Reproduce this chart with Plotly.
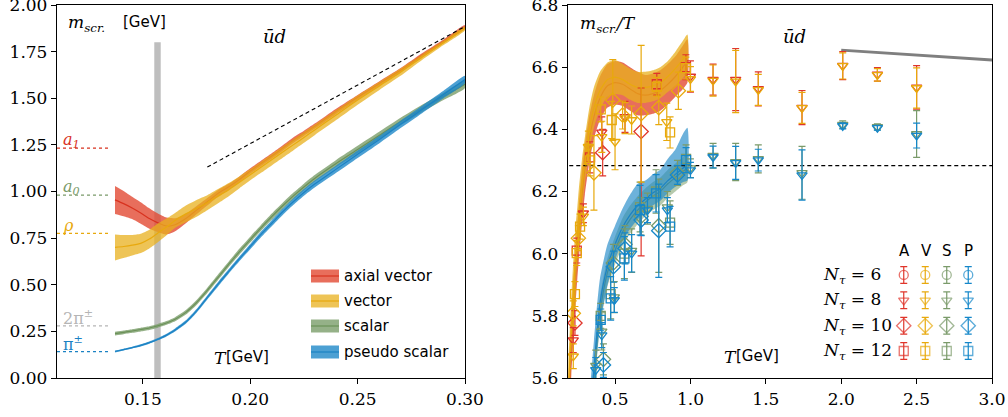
import numpy as np
import plotly.graph_objects as go

W, H = 1008, 417
MT, MB = 5, 39
PH = H - MT - MB


def px(x):
    return x / W


def py(y):
    return (H - MB - y) / PH


# ---------------- colours ----------------
RED, RED_F = "#D8321F", "rgba(226,74,51,0.80)"
YEL, YEL_F = "#E8A90E", "rgba(232,176,30,0.75)"
GRN, GRN_F = "#6B9158", "rgba(122,158,106,0.80)"
BLU, BLU_F = "#1B82C4", "rgba(31,136,200,0.80)"
PT_RED, PT_YEL, PT_GRN, PT_BLU = "#E0352B", "#E8A90C", "#7A9A6A", "#1587C9"

# ---------------- left panel data (m_scr in GeV) ----------------
T_L = [0.137, 0.141, 0.145, 0.149, 0.153, 0.157, 0.161, 0.165, 0.170, 0.175, 0.180, 0.185, 0.190,
       0.195, 0.200, 0.205, 0.210, 0.215, 0.220, 0.225, 0.230, 0.240, 0.250, 0.260, 0.270, 0.280,
       0.290, 0.300]
AX_L = [0.955, 0.935, 0.912, 0.885, 0.855, 0.832, 0.815, 0.822, 0.855, 0.900, 0.945, 0.990, 1.025,
        1.065, 1.110, 1.150, 1.190, 1.232, 1.275, 1.312, 1.350, 1.430, 1.505, 1.578, 1.650, 1.730,
        1.805, 1.882]
AX_L_E = [0.075, 0.068, 0.060, 0.058, 0.055, 0.050, 0.045, 0.035, 0.025, 0.022, 0.020, 0.018, 0.016,
          0.016, 0.015, 0.015, 0.015, 0.015, 0.015, 0.014, 0.014, 0.014, 0.013, 0.012, 0.012, 0.011,
          0.010, 0.010]
VE_L = [0.700, 0.705, 0.712, 0.722, 0.745, 0.778, 0.810, 0.845, 0.880, 0.910, 0.940, 0.975, 1.010,
        1.050, 1.090, 1.130, 1.170, 1.210, 1.250, 1.290, 1.330, 1.410, 1.490, 1.565, 1.640, 1.720,
        1.797, 1.875]
VE_L_E = [0.070, 0.062, 0.055, 0.052, 0.050, 0.050, 0.045, 0.040, 0.045, 0.045, 0.040, 0.038, 0.035,
          0.032, 0.030, 0.030, 0.030, 0.030, 0.030, 0.029, 0.028, 0.027, 0.025, 0.022, 0.020, 0.015,
          0.012, 0.010]
SC_L = [0.238, 0.245, 0.252, 0.260, 0.268, 0.280, 0.295, 0.315, 0.352, 0.405, 0.470, 0.540, 0.610,
        0.678, 0.742, 0.805, 0.865, 0.922, 0.975, 1.024, 1.070, 1.150, 1.225, 1.300, 1.375, 1.445,
        1.510, 1.575]
SC_L_E = [0.010, 0.010, 0.010, 0.010, 0.010, 0.010, 0.010, 0.011, 0.012, 0.013, 0.014, 0.015, 0.015,
          0.016, 0.016, 0.016, 0.017, 0.017, 0.018, 0.018, 0.018, 0.019, 0.020, 0.020, 0.020, 0.020,
          0.020, 0.020]
PS_L = [0.142, 0.152, 0.163, 0.175, 0.190, 0.208, 0.230, 0.258, 0.300, 0.360, 0.432, 0.503, 0.572,
        0.640, 0.705, 0.770, 0.830, 0.890, 0.945, 0.995, 1.040, 1.120, 1.200, 1.278, 1.360, 1.440,
        1.520, 1.600]
PS_L_E = [0.005, 0.005, 0.005, 0.006, 0.006, 0.006, 0.007, 0.008, 0.009, 0.010, 0.011, 0.012, 0.012,
          0.013, 0.014, 0.015, 0.016, 0.017, 0.018, 0.018, 0.019, 0.020, 0.020, 0.020, 0.020, 0.020,
          0.020, 0.020]

T_FREE = [0.18, 0.30]
M_FREE = [1.131, 1.885]          # 2 pi T
TC_BAND = [0.1553, 0.1583]
TC_TOP = 1.80
VAC_T = [0.11, 0.135]
VAC_NAMES = ["a<sub>1</sub>", "a<sub>0</sub>", "ρ", "2π<sup>±</sup>", "π<sup>±</sup>"]
VAC_MASS = [1.233, 0.981, 0.776, 0.279, 0.141]
VAC_COL = [RED, "#7A9A6A", YEL, "#B5B5B5", BLU]
VAC_ITAL = [True, True, True, False, False]

# ---------------- right panel data (m_scr / T) ----------------
T_RV = [0.19, 0.20, 0.21, 0.22, 0.23, 0.24, 0.25, 0.26, 0.28, 0.30, 0.33, 0.36, 0.40, 0.45, 0.50,
        0.55, 0.60, 0.65, 0.70, 0.75, 0.80, 0.85, 0.90, 0.95, 0.98]
AX_R = [5.50, 5.60, 5.70, 5.79, 5.87, 5.94, 6.01, 6.07, 6.18, 6.27, 6.37, 6.44, 6.50, 6.54, 6.55,
        6.545, 6.53, 6.515, 6.51, 6.515, 6.525, 6.545, 6.57, 6.60, 6.62]
AX_R_E = [0.09, 0.09, 0.09, 0.09, 0.09, 0.09, 0.09, 0.09, 0.085, 0.08, 0.075, 0.07, 0.07, 0.07, 0.07,
          0.07, 0.07, 0.07, 0.065, 0.065, 0.065, 0.065, 0.065, 0.07, 0.07]
VE_R = [5.55, 5.66, 5.76, 5.85, 5.93, 6.00, 6.06, 6.12, 6.22, 6.30, 6.40, 6.47, 6.525, 6.56, 6.568,
        6.56, 6.545, 6.535, 6.535, 6.54, 6.55, 6.57, 6.595, 6.625, 6.645]
VE_R_E = [0.10, 0.10, 0.10, 0.10, 0.10, 0.10, 0.09, 0.09, 0.08, 0.075, 0.07, 0.065, 0.06, 0.055, 0.055,
          0.05, 0.05, 0.05, 0.05, 0.05, 0.05, 0.05, 0.055, 0.06, 0.06]
T_RP = [0.33, 0.36, 0.40, 0.45, 0.50, 0.55, 0.60, 0.65, 0.70, 0.75, 0.80, 0.85, 0.90, 0.95, 0.98]
PS_R = [5.45, 5.63, 5.84, 5.96, 6.03, 6.085, 6.125, 6.155, 6.175, 6.195, 6.21, 6.235, 6.255, 6.275, 6.285]
PS_R_UP = [0.09, 0.09, 0.08, 0.07, 0.06, 0.06, 0.065, 0.07, 0.06, 0.06, 0.06, 0.07, 0.08, 0.11, 0.12]
PS_R_DN = [0.09, 0.08, 0.07, 0.06, 0.05, 0.045, 0.045, 0.045, 0.04, 0.04, 0.04, 0.04, 0.04, 0.045, 0.05]
SC_R = [5.42, 5.60, 5.81, 5.94, 6.01, 6.07, 6.11, 6.14, 6.165, 6.185, 6.20, 6.225, 6.245, 6.265, 6.275]
SC_R_E = [0.05, 0.05, 0.05, 0.045, 0.045, 0.045, 0.045, 0.045, 0.045, 0.045, 0.045, 0.045, 0.045, 0.045, 0.045]

T_HIGH = [2.0, 3.0]
M_HIGH = [6.655, 6.623]
T_2PI = [0.15, 3.1]
M_2PI = [6.2832, 6.2832]

# lattice points: (T, m/T, err)
T_A8 = [0.223, 0.29, 0.412, 0.566, 1.0, 1.15, 1.30, 1.45, 1.74, 2.01, 2.24, 2.5]
M_A8 = [5.722, 6.13, 6.39, 6.44, 6.57, 6.56, 6.56, 6.53, 6.47, 6.605, 6.577, 6.535]
E_A8 = [0.04, 0.03, 0.05, 0.05, 0.05, 0.05, 0.10, 0.055, 0.055, 0.045, 0.022, 0.07]
T_V8 = [0.223, 0.29, 0.323, 0.412, 0.50, 0.566, 0.61, 0.843, 1.0, 1.15, 1.30, 1.45, 1.74, 2.01, 2.24, 2.5]
M_V8 = [5.67, 6.12, 6.344, 6.376, 6.36, 6.436, 6.43, 6.424, 6.562, 6.557, 6.554, 6.527, 6.469, 6.604, 6.575, 6.533]
E_V8 = [0.04, 0.03, 0.05, 0.05, 0.09, 0.05, 0.045, 0.06, 0.04, 0.05, 0.10, 0.05, 0.05, 0.042, 0.02, 0.065]
T_P8 = [0.372, 0.412, 0.495, 0.61, 0.715, 0.847, 1.0, 1.15, 1.30, 1.45, 1.74, 2.01, 2.24, 2.5]
M_P8 = [5.626, 5.738, 5.851, 6.001, 6.14, 6.14, 6.269, 6.311, 6.292, 6.301, 6.253, 6.411, 6.405, 6.38]
E_P8 = [0.04, 0.04, 0.04, 0.06, 0.04, 0.04, 0.025, 0.035, 0.053, 0.035, 0.081, 0.01, 0.008, 0.04]
M_S8 = [5.64, 5.75, 5.86, 6.01, 6.145, 6.15, 6.275, 6.315, 6.295, 6.305, 6.26, 6.415, 6.408, 6.385]
E_S8 = [0.05, 0.06, 0.05, 0.07, 0.05, 0.05, 0.03, 0.04, 0.06, 0.045, 0.085, 0.012, 0.01, 0.075]

T_A10 = [0.234, 0.418, 0.673]
M_A10 = [5.777, 6.325, 6.393]
E_A10_UP = [0.04, 0.075, 0.14]
E_A10_DN = [0.04, 0.075, 0.40]
T_V10 = [0.223, 0.257, 0.36, 0.485, 0.55, 0.673, 0.79, 0.92]
M_V10 = [5.808, 6.05, 6.26, 6.494, 6.446, 6.45, 6.47, 6.524]
E_V10 = [0.04, 0.04, 0.12, 0.13, 0.045, 0.22, 0.055, 0.06]
T_P10 = [0.423, 0.489, 0.566, 0.673, 0.79, 0.914]
M_P10 = [5.642, 5.958, 6.017, 6.108, 6.074, 6.253]
E_P10 = [0.04, 0.05, 0.05, 0.05, 0.15, 0.03]
M_S10 = [5.66, 5.97, 6.03, 6.12, 6.09, 6.26]
E_S10 = [0.05, 0.06, 0.06, 0.06, 0.15, 0.04]

T_A12 = [0.246, 0.334, 0.777, 0.97]
M_A12 = [6.01, 6.31, 6.545, 6.60]
E_A12 = [0.04, 0.05, 0.035, 0.04]
T_V12 = [0.234, 0.246, 0.268, 0.334, 0.405, 0.478, 0.777, 0.865, 0.97]
M_V12 = [5.87, 6.002, 6.087, 6.30, 6.464, 6.43, 6.537, 6.39, 6.597]
E_V12 = [0.04, 0.04, 0.04, 0.05, 0.04, 0.06, 0.03, 0.05, 0.035]
T_P12 = [0.405, 0.471, 0.562, 0.666, 0.772, 0.865, 0.971]
M_P12 = [5.787, 5.856, 5.985, 6.14, 6.194, 6.087, 6.301]
E_P12 = [0.035, 0.07, 0.07, 0.08, 0.06, 0.065, 0.04]
M_S12 = [5.80, 5.87, 6.0, 6.15, 6.2, 6.1, 6.305]
E_S12 = [0.04, 0.08, 0.08, 0.08, 0.07, 0.07, 0.045]

# legend grid
LEG_COLS = ["A", "V", "S", "P"]
LEG_COL_COLORS = [PT_RED, PT_YEL, PT_GRN, PT_BLU]
LEG_NTAU = [6, 8, 10, 12]
LEG_SYMBOLS = ["circle-open", "triangle-down-open", "diamond-open", "square-open"]
LEG_BANDS = ["axial vector", "vector", "scalar", "pseudo scalar"]

SERIF = "DejaVu Serif"
SANS = "DejaVu Sans"

fig = go.Figure()


def band(x, c, lo, hi, fill, line, xa, ya, lw=1.2):
    xs = list(x) + list(x)[::-1]
    ys = [a + b for a, b in zip(c, hi)] + [a - b for a, b in zip(c, lo)][::-1]
    fig.add_trace(go.Scatter(x=xs, y=ys, fill="toself", fillcolor=fill, mode="lines",
                             line=dict(width=0, shape="spline", smoothing=0.6),
                             hoverinfo="skip", showlegend=False, xaxis=xa, yaxis=ya))
    fig.add_trace(go.Scatter(x=x, y=c, mode="lines", line=dict(color=line, width=lw, shape="spline", smoothing=0.6),
                             hoverinfo="skip", showlegend=False, xaxis=xa, yaxis=ya))


# ---- left panel ----
fig.add_trace(go.Scatter(x=[TC_BAND[0], TC_BAND[1], TC_BAND[1], TC_BAND[0]], y=[0, 0, TC_TOP, TC_TOP],
                         fill="toself", fillcolor="#BEBEBE", mode="lines", line=dict(width=0),
                         showlegend=False, hoverinfo="skip", xaxis="x", yaxis="y"))
for m, col in zip(VAC_MASS, VAC_COL):
    fig.add_trace(go.Scatter(x=VAC_T, y=[m, m], mode="lines", line=dict(color=col, width=1.3, dash="dot"),
                             showlegend=False, hoverinfo="skip", xaxis="x", yaxis="y"))
band(T_L, SC_L, SC_L_E, SC_L_E, GRN_F, GRN, "x", "y")
band(T_L, PS_L, PS_L_E, PS_L_E, BLU_F, BLU, "x", "y")
band(T_L, AX_L, AX_L_E, AX_L_E, RED_F, RED, "x", "y")
band(T_L, VE_L, VE_L_E, VE_L_E, YEL_F, YEL, "x", "y")
fig.add_trace(go.Scatter(x=T_FREE, y=M_FREE, mode="lines", line=dict(color="black", width=1.1, dash="4px,3px"),
                         showlegend=False, hoverinfo="skip", xaxis="x", yaxis="y"))

# ---- right panel ----
band(T_RP, SC_R, SC_R_E, SC_R_E, "rgba(122,158,106,0.55)", GRN, "x2", "y2")
band(T_RP, PS_R, PS_R_DN, PS_R_UP, "rgba(31,136,200,0.65)", BLU, "x2", "y2")
band(T_RV, AX_R, AX_R_E, AX_R_E, RED_F, RED, "x2", "y2")
band(T_RV, VE_R, VE_R_E, VE_R_E, YEL_F, YEL, "x2", "y2")
fig.add_trace(go.Scatter(x=T_2PI, y=M_2PI, mode="lines", line=dict(color="black", width=1.1, dash="4px,3px"),
                         showlegend=False, hoverinfo="skip", xaxis="x2", yaxis="y2"))
fig.add_trace(go.Scatter(x=T_HIGH, y=M_HIGH, mode="lines", line=dict(color="#7F7F7F", width=2.8),
                         showlegend=False, hoverinfo="skip", xaxis="x2", yaxis="y2"))


def pts(T, M, E, col, sym, Edn=None, size=9):
    ey = dict(type="data", array=E, color=col, thickness=1.2, width=3.5, visible=True)
    if Edn is not None:
        ey["symmetric"] = False
        ey["arrayminus"] = Edn
    fig.add_trace(go.Scatter(x=T, y=M, mode="markers", error_y=ey,
                             marker=dict(symbol=sym, size=size, color=col, line=dict(width=1.3, color=col)),
                             showlegend=False, hoverinfo="skip", xaxis="x2", yaxis="y2"))


pts(T_A12, M_A12, E_A12, PT_RED, "square-open")
pts(T_A10, M_A10, E_A10_UP, PT_RED, "diamond-open", Edn=E_A10_DN, size=11)
pts(T_A8, M_A8, E_A8, PT_RED, "triangle-down-open")
pts(T_P12, M_S12, E_S12, PT_GRN, "square-open")
pts(T_P10, M_S10, E_S10, PT_GRN, "diamond-open", size=11)
pts(T_P8, M_S8, E_S8, PT_GRN, "triangle-down-open")
pts(T_V12, M_V12, E_V12, PT_YEL, "square-open")
pts(T_V10, M_V10, E_V10, PT_YEL, "diamond-open", size=11)
pts(T_V8, M_V8, E_V8, PT_YEL, "triangle-down-open")
pts(T_P12, M_P12, E_P12, PT_BLU, "square-open")
pts(T_P10, M_P10, E_P10, PT_BLU, "diamond-open", size=11)
pts(T_P8, M_P8, E_P8, PT_BLU, "triangle-down-open")

# ---- right legend grid (own axes) ----
rows = list(range(len(LEG_NTAU)))
for ci, col in enumerate(LEG_COL_COLORS):
    fig.add_trace(go.Scatter(x=[ci] * len(rows), y=rows, mode="markers",
                             error_y=dict(type="constant", value=0.33, color=col, thickness=1.2, width=3.5),
                             marker=dict(symbol=LEG_SYMBOLS, size=[9, 9, 11, 9], color=col,
                                         line=dict(width=1.3, color=col)),
                             showlegend=False, hoverinfo="skip", xaxis="x3", yaxis="y3", cliponaxis=False))

axis_common = dict(showgrid=False, zeroline=False, showline=True, linecolor="black", linewidth=1.3,
                   mirror=True, ticks="outside", ticklen=5, tickwidth=1.2, tickcolor="black",
                   automargin=False, ticklabeloverflow="allow",
                   tickfont=dict(family=SERIF, size=17, color="black"))
fig.update_layout(
    width=W, height=H, autosize=False,
    margin=dict(l=0, r=0, t=MT, b=MB, pad=0, autoexpand=False),
    paper_bgcolor="white", plot_bgcolor="white", showlegend=False,
    xaxis=dict(domain=[px(57), px(465)], range=[0.11, 0.30], tickvals=[0.15, 0.20, 0.25, 0.30],
               tickformat=".2f", anchor="y", **axis_common),
    yaxis=dict(domain=[0, 1], range=[0, 2.0], tick0=0, dtick=0.25, tickformat=".2f", anchor="x", **axis_common),
    xaxis2=dict(domain=[px(568), px(992)], range=[0.188, 3.0], tick0=0.5, dtick=0.5, tickformat=".1f",
                anchor="y2", **axis_common),
    yaxis2=dict(domain=[0, 1], range=[5.6, 6.8], tick0=5.6, dtick=0.2, tickformat=".1f", anchor="x2", **axis_common),
    xaxis3=dict(domain=[px(893), px(979)], range=[-0.5, 3.5], visible=False, anchor="y3"),
    yaxis3=dict(domain=[py(363.7), py(262.3)], range=[3.5, -0.5], visible=False, anchor="x3"),
)


# ---- texts ----
def ann(text, x, y, size=15, fam=SANS, color="black", xanchor="left"):
    fig.add_annotation(text=text, x=px(x), y=py(y), xref="paper", yref="paper", showarrow=False,
                       xanchor=xanchor, yanchor="middle", font=dict(family=fam, size=size, color=color))


ann("<i>m</i><sub><i>scr.</i></sub>", 66, 23, size=17, fam=SERIF)
ann("[GeV]", 121, 22, size=15)
ann("<i>ūd</i>", 261, 37, size=18, fam=SERIF)
ann("<i>T</i>", 212, 358, size=17, fam=SERIF)
ann("[GeV]", 224, 357, size=15)
ann("<i>m</i><sub><i>scr.</i></sub><i>/T</i>", 578, 24, size=17, fam=SERIF)
ann("<i>ūd</i>", 781, 37, size=18, fam=SERIF)
ann("<i>T</i>", 722, 357, size=17, fam=SERIF)
ann("[GeV]", 734, 356, size=15)

for name, m, col, it in zip(VAC_NAMES, VAC_MASS, VAC_COL, VAC_ITAL):
    ybase = (378 - m * 186.5) - 8
    ann(f"<i>{name}</i>" if it else name, 61, ybase, size=16, fam=SERIF, color=col)

# left legend
for name, fc, lc, yc in zip(LEG_BANDS, [RED_F, YEL_F, GRN_F, BLU_F], [RED, YEL, GRN, BLU], [276, 301, 326, 352]):
    fig.add_shape(type="rect", xref="paper", yref="paper", x0=px(311), x1=px(339), y0=py(yc + 6.5),
                  y1=py(yc - 6.5), fillcolor=fc, line_width=0)
    fig.add_shape(type="line", xref="paper", yref="paper", x0=px(311), x1=px(339), y0=py(yc), y1=py(yc),
                  line=dict(color=lc, width=1.2))
    ann(name, 342, yc, size=15)

# right legend labels
for lab, xc in zip(LEG_COLS, [904, 926, 947, 968]):
    ann(lab, xc, 251, size=15, xanchor="center")
for n, yc in zip(LEG_NTAU, [275, 300, 326, 351]):
    ann(f"<i>N</i><sub><i>τ</i></sub> = {n}", 821, yc, size=17, fam=SERIF)

fig.write_html("out.html", config={"displayModeBar": False, "responsive": False},
               post_script="document.body.style.margin='0';document.body.style.overflow='hidden';")
